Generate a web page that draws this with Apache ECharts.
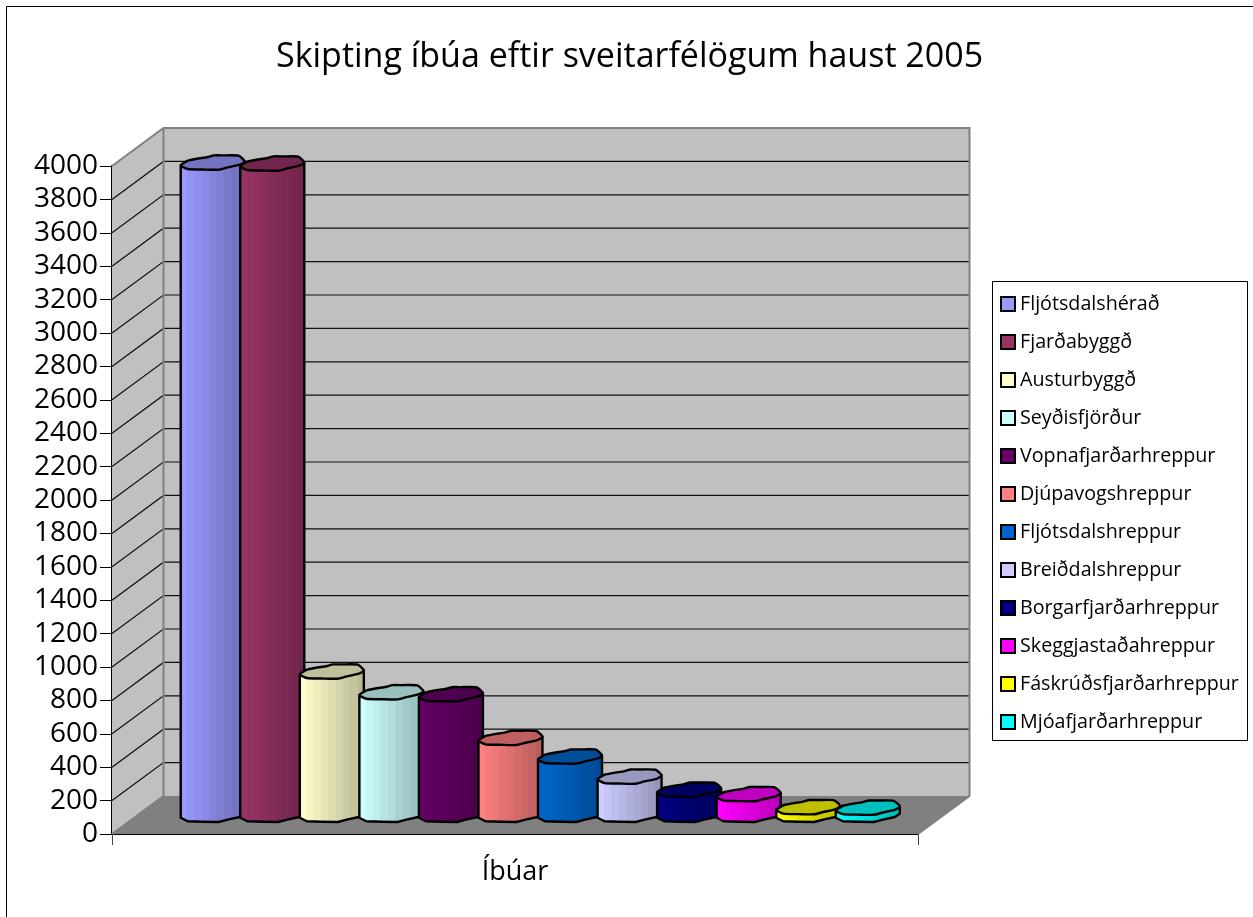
<!DOCTYPE html>
<html>
<head>
<meta charset="utf-8">
<style>html,body{margin:0;padding:0;background:#fff}#c{width:1253px;height:917px}</style>
<script src="https://cdn.jsdelivr.net/npm/echarts@6/dist/echarts.min.js"></script>
</head>
<body>
<div id="c"></div>
<script>
var titleText = 'Skipting íbúa eftir sveitarfélögum haust 2005';
var categories = ['Íbúar'];
var seriesNames = ['Fljótsdalshérað','Fjarðabyggð','Austurbyggð','Seyðisfjörður','Vopnafjarðarhreppur','Djúpavogshreppur','Fljótsdalshreppur','Breiðdalshreppur','Borgarfjarðarhreppur','Skeggjastaðahreppur','Fáskrúðsfjarðarhreppur','Mjóafjarðarhreppur'];
var seriesValues = [3906,3900,858,734,722,461,349,229,151,124,46,43];
var seriesColors = ['#9999FF','#993366','#FFFFCC','#CCFFFF','#660066','#FF8080','#0066CC','#CCCCFF','#000080','#FF00FF','#FFFF00','#00FFFF'];
var valueTicks = [0,200,400,600,800,1000,1200,1400,1600,1800,2000,2200,2400,2600,2800,3000,3200,3400,3600,3800,4000];

var FONT = 'Open Sans';
var DX = 51.5, DY = -38;          // depth of the 3D box
var PITCH = 59.55;                // spacing between cylinders
var topOutline = [[-32,2.7],[-25,6.3],[-10,6.8],[6,7],[15,4.7],[27,2],[32,-1.3],[26,-7],[10,-7.3],[1,-7.3],[-5,-5.7],[-24,-2.3]];
var frontOutline = topOutline.slice(0,7);
var BANDS = 9;

function shade(hex, f){
  var n = parseInt(hex.slice(1),16);
  return 'rgb('+Math.round((n>>16&255)*f)+','+Math.round((n>>8&255)*f)+','+Math.round((n&255)*f)+')';
}
function bandStops(hex){
  var s=[];
  for(var b=0;b<BANDS;b++){
    var c=shade(hex,1-0.27*b/(BANDS-1));
    s.push({offset:b/BANDS,color:c},{offset:(b+1)/BANDS,color:c});
  }
  return s;
}

var wallsSeries = {
  type:'custom', name:'walls', silent:true, z:1, legendHoverLink:false,
  data:[[0,0]],
  renderItem:function(params,api){
    var f0=api.coord([0,0]), f1=api.coord([0,4000]);
    var L=params.coordSys.x, R=L+params.coordSys.width, yB=f0[1], yT=f1[1];
    var kids=[];
    kids.push({type:'polygon',shape:{points:[[L+DX,yT+DY],[R+DX,yT+DY],[R+DX,yB+DY],[L+DX,yB+DY]]},style:{fill:'#C0C0C0'}});
    kids.push({type:'polygon',shape:{points:[[L,yT],[L+DX,yT+DY],[L+DX,yB+DY],[L,yB]]},style:{fill:'#C0C0C0'}});
    kids.push({type:'polygon',shape:{points:[[L,yB],[L+DX,yB+DY],[R+DX,yB+DY],[R,yB]]},style:{fill:'#808080'}});
    valueTicks.forEach(function(v){
      if(v===0||v===4000) return;
      var y=api.coord([0,v])[1];
      kids.push({type:'polyline',shape:{points:[[L,y],[L+DX,y+DY],[R+DX,y+DY]]},style:{fill:null,stroke:'#111',lineWidth:1.2}});
    });
    kids.push({type:'polyline',shape:{points:[[L,yT],[L+DX,yT+DY],[R+DX,yT+DY],[R+DX,yB+DY],[R,yB]]},style:{fill:null,stroke:'#808080',lineWidth:2}});
    kids.push({type:'polyline',shape:{points:[[L,yB],[L+DX,yB+DY],[L+DX,yT+DY]]},style:{fill:null,stroke:'#808080',lineWidth:2}});
    return {type:'group',children:kids};
  }
};

function cylinderSeries(name,i){
  var color=seriesColors[i];
  return {
    type:'custom', name:name, z:3,
    itemStyle:{color:color,borderColor:'#000',borderWidth:2},
    data:[[categories[0],seriesValues[i]]],
    encode:{x:0,y:1},
    renderItem:function(params,api){
      var top=api.coord([0,api.value(1)]), base=api.coord([0,0]);
      var cx=top[0]+DX/2-0.5+(i-5.5)*PITCH, ty=top[1]+DY/2, by=base[1]+DY/2;
      var body=frontOutline.map(function(p){return [cx+p[0],by+p[1]];}).concat(
        [[cx+32,ty+frontOutline[6][1]],[cx-32,ty+frontOutline[0][1]]]);
      var lid=topOutline.map(function(p){return [cx+p[0],ty+p[1]];});
      return {type:'group',children:[
        {type:'polygon',shape:{points:body},style:{fill:new echarts.graphic.LinearGradient(0,0,1,0,bandStops(color)),stroke:'#000',lineWidth:2.4,lineJoin:'round'}},
        {type:'polygon',shape:{points:lid,smooth:0.2},style:{fill:shade(color,0.75),stroke:'#000',lineWidth:2.4,lineJoin:'round'}}
      ]};
    }
  };
}

var chart=echarts.init(document.getElementById('c'),null,{renderer:'canvas'});
chart.setOption({
  animation:false,
  backgroundColor:'#fff',
  title:{text:titleText,left:276,top:40,padding:0,textStyle:{fontFamily:FONT,fontWeight:'normal',fontSize:34,color:'#000'}},
  grid:{left:112,top:166,width:806,height:668,containLabel:false},
  xAxis:{type:'category',data:categories,
    axisLine:{show:true,onZero:false,lineStyle:{color:'#000',width:2}},
    axisTick:{show:true,length:11,lineStyle:{color:'#444',width:1}},
    axisLabel:{fontFamily:FONT,fontSize:27,color:'#000',margin:25},
    splitLine:{show:false}},
  yAxis:{type:'value',min:0,max:4000,interval:200,
    axisLine:{show:true,lineStyle:{color:'#000',width:2}},
    axisTick:{show:true,length:12,lineStyle:{color:'#000',width:1}},
    axisLabel:{fontFamily:FONT,fontSize:28,color:'#000',margin:14,padding:[6,0,0,0],formatter:function(v){return String(v);}},
    splitLine:{show:false}},
  legend:{orient:'vertical',left:1000,top:294,padding:0,itemGap:18,itemWidth:14,itemHeight:14,
    data:seriesNames.map(function(n){return {name:n,icon:'rect'};}),
    selectedMode:false,
    textStyle:{fontFamily:FONT,fontSize:19.7,color:'#000',lineHeight:20},
    itemStyle:{borderColor:'#000',borderWidth:2}},
  graphic:[
    {type:'rect',silent:true,z:-10,shape:{x:6.5,y:6.5,width:1300,height:1000},style:{fill:'#fff',stroke:'#000',lineWidth:1}},
    {type:'rect',silent:true,z:-5,shape:{x:992.5,y:281.5,width:255,height:459},style:{fill:'#fff',stroke:'#000',lineWidth:1}}
  ],
  series:[wallsSeries].concat(seriesNames.map(cylinderSeries))
});
</script>
</body>
</html>
